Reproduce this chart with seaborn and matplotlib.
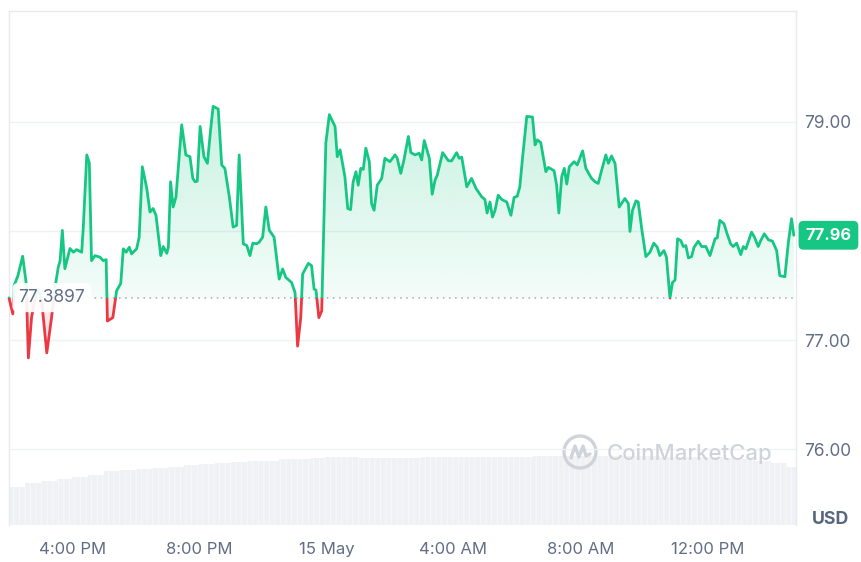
import numpy as np
import pandas as pd
import seaborn as sns
import matplotlib.pyplot as plt
from matplotlib.patches import Rectangle, Ellipse
from matplotlib.lines import Line2D
import matplotlib.transforms as mtransforms

# Hours since 14:00 on 14 May, and price in USD
hours = [0.00, 0.12, 0.16, 0.28, 0.43, 0.54, 0.61, 0.71, 0.82, 0.91,
         1.03, 1.19, 1.34, 1.45, 1.55, 1.61, 1.68, 1.76, 1.92, 2.03,
         2.13, 2.29, 2.34, 2.45, 2.53, 2.60, 2.71, 2.87, 2.97, 3.06,
         3.10, 3.27, 3.39, 3.52, 3.60, 3.69, 3.79, 3.86, 4.02, 4.10,
         4.20, 4.34, 4.44, 4.54, 4.63, 4.78, 4.86, 4.97, 5.02, 5.09,
         5.17, 5.26, 5.44, 5.57, 5.70, 5.79, 5.86, 5.93, 6.02, 6.14,
         6.25, 6.35, 6.43, 6.59, 6.70, 6.80, 6.94, 7.06, 7.17, 7.25,
         7.38, 7.49, 7.59, 7.68, 7.80, 7.88, 7.99, 8.09, 8.20, 8.35,
         8.51, 8.62, 8.72, 8.90, 9.01, 9.09, 9.19, 9.25, 9.43, 9.53,
         9.61, 9.67, 9.76, 9.85, 9.98, 10.09, 10.27, 10.34, 10.43, 10.58,
         10.67, 10.76, 10.84, 10.93, 11.00, 11.08, 11.16, 11.24, 11.35, 11.42,
         11.50, 11.60, 11.74, 11.84, 12.00, 12.16, 12.23, 12.34, 12.44, 12.58,
         12.66, 12.79, 12.92, 13.00, 13.08, 13.24, 13.33, 13.42, 13.49, 13.66,
         13.84, 13.94, 14.10, 14.18, 14.26, 14.42, 14.57, 14.71, 14.89, 14.99,
         15.06, 15.15, 15.23, 15.31, 15.41, 15.52, 15.68, 15.81, 15.91, 16.01,
         16.09, 16.18, 16.31, 16.49, 16.57, 16.64, 16.75, 16.91, 16.99, 17.17,
         17.25, 17.32, 17.41, 17.49, 17.57, 17.65, 17.80, 17.90, 18.07, 18.17,
         18.35, 18.46, 18.56, 18.67, 18.80, 18.88, 18.98, 19.09, 19.22, 19.40,
         19.51, 19.56, 19.64, 19.75, 19.82, 19.93, 20.06, 20.19, 20.31, 20.42,
         20.50, 20.63, 20.71, 20.82, 20.90, 20.98, 21.06, 21.16, 21.24, 21.32,
         21.40, 21.50, 21.58, 21.71, 21.82, 21.95, 22.08, 22.24, 22.31, 22.39,
         22.52, 22.62, 22.73, 22.81, 22.92, 23.05, 23.13, 23.21, 23.39, 23.48,
         23.60, 23.68, 23.79, 23.92, 24.05, 24.18, 24.28, 24.44, 24.55, 24.65,
         24.72]
price = [77.387, 77.240, 77.498, 77.590, 77.768, 77.525, 76.837, 77.206, 77.387, 77.470,
         77.359, 76.883, 77.206, 77.482, 77.666, 77.728, 78.005, 77.654, 77.839, 77.805,
         77.829, 77.805, 78.035, 78.696, 78.622, 77.728, 77.774, 77.759, 77.728, 77.737,
         77.175, 77.206, 77.452, 77.519, 77.836, 77.805, 77.851, 77.790, 77.836, 77.943,
         78.588, 78.389, 78.173, 78.205, 78.143, 77.774, 77.857, 77.795, 77.851, 78.450,
         78.219, 78.312, 78.972, 78.696, 78.680, 78.481, 78.450, 78.456, 78.957, 78.680,
         78.619, 78.926, 79.141, 79.117, 78.604, 78.573, 78.312, 78.035, 78.051, 78.696,
         77.882, 77.866, 77.774, 77.888, 77.882, 77.897, 77.943, 78.219, 78.005, 77.943,
         77.559, 77.652, 77.574, 77.528, 77.436, 76.945, 77.206, 77.606, 77.703, 77.682,
         77.467, 77.458, 77.206, 77.267, 78.804, 79.065, 78.957, 78.680, 78.742, 78.496,
         78.205, 78.195, 78.450, 78.542, 78.419, 78.573, 78.564, 78.758, 78.634, 78.251,
         78.189, 78.419, 78.481, 78.665, 78.634, 78.696, 78.665, 78.527, 78.650, 78.865,
         78.717, 78.696, 78.712, 78.650, 78.828, 78.665, 78.336, 78.465, 78.512, 78.717,
         78.643, 78.641, 78.717, 78.665, 78.676, 78.404, 78.481, 78.389, 78.312, 78.288,
         78.164, 78.265, 78.127, 78.189, 78.327, 78.288, 78.265, 78.143, 78.306, 78.318,
         78.404, 78.680, 79.049, 79.043, 78.788, 78.834, 78.809, 78.542, 78.582, 78.551,
         78.419, 78.164, 78.496, 78.573, 78.429, 78.588, 78.634, 78.604, 78.733, 78.573,
         78.481, 78.450, 78.435, 78.558, 78.696, 78.619, 78.687, 78.619, 78.219, 78.297,
         78.251, 77.995, 78.189, 78.275, 78.265, 78.020, 77.765, 77.805, 77.888, 77.851,
         77.774, 77.820, 77.759, 77.385, 77.528, 77.550, 77.928, 77.912, 77.857, 77.866,
         77.753, 77.765, 77.851, 77.906, 77.857, 77.857, 77.774, 77.928, 77.937, 78.097,
         78.066, 77.974, 77.882, 77.857, 77.888, 77.783, 77.857, 77.836, 77.989, 77.943,
         77.857, 77.912, 77.974, 77.919, 77.906, 77.820, 77.590, 77.581, 77.897, 78.112,
         77.96]

# 24h volume sampled every half hour (million USD)
vol_hours = np.arange(0, 25, 0.5)
volume = [380, 420, 440, 460, 480, 500, 540, 550, 560, 570,
          580, 600, 610, 620, 630, 640, 640, 660, 660, 670,
          680, 680, 675, 675, 675, 675, 680, 680, 680, 680,
          680, 685, 685, 690, 690, 690, 690, 690, 690, 690,
          690, 685, 685, 680, 680, 670, 660, 640, 620, 580]

base_price = 77.3897
last_price = 77.96
tick_hours = [2, 6, 10, 14, 18, 22]
tick_labels = ['4:00 PM', '8:00 PM', '15 May', '4:00 AM', '8:00 AM', '12:00 PM']
price_ticks = [76, 77, 78, 79]
price_tick_labels = ['76.00', '77.00', '', '79.00']

green = '#16c784'
red = '#ea3943'
grey_text = '#616e85'

sns.set_theme(style='white')
plt.rcParams['font.family'] = ['Inter', 'DejaVu Sans']
plt.rcParams['hatch.linewidth'] = 0.6

fig = plt.figure(figsize=(8.62, 5.62), dpi=100)
pos = [9 / 862, 1 - 525 / 562, 787 / 862, 514 / 562]
x_end = 24.79

# volume bars in the background
ax_vol = fig.add_axes(pos)
ax_vol.bar(vol_hours, volume, width=0.5, align='edge', color='#eff1f4',
           edgecolor='#f8f9fa', linewidth=0, hatch='|||')
ax_vol.set_xlim(0, x_end)
ax_vol.set_ylim(0, 5140)
ax_vol.axis('off')

ax = fig.add_axes(pos)
ax.set_zorder(1)
ax.patch.set_visible(False)

df = pd.DataFrame({'hour': hours, 'price': price})

# gradient fill between the line and the opening price
poly = ax.fill_between(hours, price, base_price, color='none', linewidth=0)
clip = poly.get_paths()[0]
grad = np.linspace(0, 1, 256).reshape(-1, 1)

up_rgba = np.zeros((256, 1, 4))
up_rgba[..., :3] = plt.matplotlib.colors.to_rgb(green)
up_rgba[..., 3] = 0.05 + 0.19 * grad
im_up = ax.imshow(up_rgba, extent=[0, x_end, base_price, 79.2], origin='lower',
                  aspect='auto', zorder=1)
im_up.set_clip_path(clip, ax.transData)

dn_rgba = np.zeros((256, 1, 4))
dn_rgba[..., :3] = plt.matplotlib.colors.to_rgb(red)
dn_rgba[..., 3] = 0.25 - 0.2 * grad
im_dn = ax.imshow(dn_rgba, extent=[0, x_end, 76.8, base_price], origin='lower',
                  aspect='auto', zorder=1)
im_dn.set_clip_path(clip, ax.transData)

# price line: green above the opening price, red below
sns.lineplot(data=df, x='hour', y='price', ax=ax, color=green, linewidth=2.0, zorder=3)
ax.lines[-1].set_clip_path(Rectangle((-1, base_price), 30, 10, transform=ax.transData))
sns.lineplot(data=df, x='hour', y='price', ax=ax, color=red, linewidth=2.0, zorder=3)
ax.lines[-1].set_clip_path(Rectangle((-1, base_price - 10), 30, 10, transform=ax.transData))
for ln in ax.lines:
    ln.set_solid_joinstyle('round')

ax.axhline(base_price, color='#a3acbb', linewidth=1.1, linestyle=(0, (1, 3)), zorder=2)

ax.set_xlim(0, x_end)
ax.set_ylim(75.307, 80.014)
ax.set_xlabel('')
ax.set_ylabel('')
ax.set_xticks(tick_hours, tick_labels)
ax.set_yticks(price_ticks, price_tick_labels)
ax.yaxis.tick_right()
ax.yaxis.grid(True, color='#eff1f4', linewidth=1)
ax.xaxis.grid(False)
ax.tick_params(axis='x', length=0, pad=12, labelsize=12, colors=grey_text)
ax.tick_params(axis='y', length=0, pad=6, labelsize=12.4, colors=grey_text)
for side in ['top', 'left', 'right']:
    ax.spines[side].set_visible(True)
    ax.spines[side].set_color('#e8eaee')
    ax.spines[side].set_linewidth(1)
ax.spines['bottom'].set_visible(False)

# price labels
trans = mtransforms.blended_transform_factory(ax.transAxes, ax.transData)
ax.text(0.012, base_price, '77.3897', transform=trans, ha='left', va='center',
        fontsize=12.5, color=grey_text, zorder=5,
        bbox=dict(boxstyle='round,pad=0.35', fc='white', ec='none', alpha=0.92))
ax.text(1.012, last_price, f'{last_price:.2f}', transform=trans, ha='left', va='center',
        fontsize=11.8, color='white', fontweight='bold', zorder=5, clip_on=False,
        bbox=dict(boxstyle='round,pad=0.42,rounding_size=0.3', fc=green, ec='none'))

fig.text(831 / 862, 1 - 519 / 562, 'USD', ha='center', va='center', fontsize=12.8,
         fontweight='bold', color='#58667e')

# watermark
wm = '#cfd4db'
fig.text(607 / 862, 1 - 454 / 562, 'CoinMarketCap', ha='left', va='center',
         fontsize=16, color=wm, fontweight='medium')
fig.add_artist(Ellipse((580 / 862, 1 - 452 / 562), 32 / 862, 32 / 562,
                       transform=fig.transFigure, fill=False, ec=wm, lw=2.4))
mx = [-9, -5, -1, 3, 6, 10]
my = [6, -6, 5, -6, 4, 2]
fig.add_artist(Line2D([(580 + a) / 862 for a in mx], [1 - (452 + b) / 562 for b in my],
                      transform=fig.transFigure, color=wm, lw=2.4,
                      solid_joinstyle='round', solid_capstyle='round'))

fig.savefig('out.png', dpi=100)
